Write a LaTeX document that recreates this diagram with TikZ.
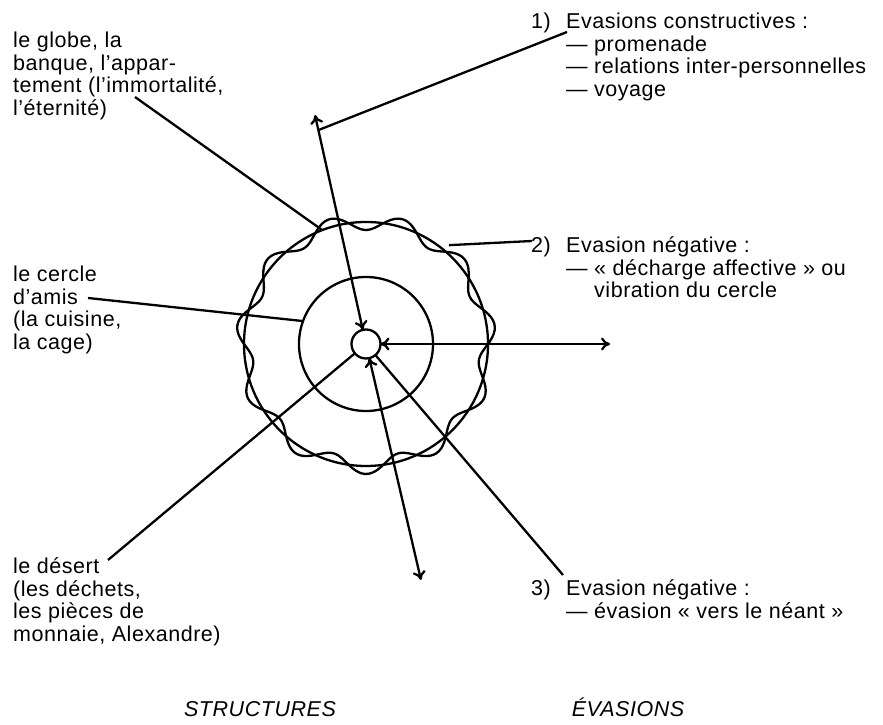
\documentclass[tikz,border=0pt]{standalone}
\usepackage{fontspec}
\setmainfont{Liberation Sans}[LetterSpace=2.5]
\usepackage{tikz}
\usetikzlibrary{arrows.meta}
\usetikzlibrary{calc}

\tikzset{
    txt/.style={anchor=north west, inner sep=0pt, align=left},
    ring/.style={draw, circle, inner sep=0pt, outer sep=0pt},
}

\begin{document}
\begin{tikzpicture}[x=1pt, y=1pt, line width=2.3pt, >={Computer Modern Rightarrow[length=9pt, width=13pt]},
        font=\fontsize{21.5}{22.5}\selectfont]
        \useasboundingbox (0, 0) rectangle (883, 725);
        % rings
        \node[ring, minimum size=29pt] (core) at (366, 381) {};
        \node[ring, minimum size=134pt] (amis) at (core) {};
        \node[ring, minimum size=244pt] (globe) at (core) {};
        \draw plot[samples=240, domain=0:360] ({366 + (122 + 8*sin(11*\x))*cos(\x)}, {381 + (122 + 8*sin(11*\x))*sin(\x)});
        % structures
        \node[txt] (globetxt) at (12, 694) {le globe, la\\banque, l'appar-\\tement (l'immortalité,\\l'éternité)};
        \node[txt] (amistxt) at (12, 460) {le cercle\\d'amis\\(la cuisine,\\la cage)};
        \node[txt] (deserttxt) at (12, 168) {le désert\\(les déchets,\\les pièces de\\monnaie, Alexandre)};
        % evasions
        \node[txt] (num1) at (530, 713) {1)};
        \node[txt] (evas1) at (565, 713) {Evasions constructives :\\— promenade\\— relations inter-personnelles\\— voyage};
        \node[txt] (num2) at (530, 489) {2)};
        \node[txt] (evas2) at (565, 489) {Evasion négative :\\— « décharge affective » ou\\\phantom{— }vibration du cercle};
        \node[txt] (num3) at (530, 146) {3)};
        \node[txt] (evas3) at (565, 146) {Evasion négative :\\— évasion « vers le néant »};
        \node[anchor=base] (structures) at (260, 8) {\itshape STRUCTURES};
        \node[anchor=base] (evasions) at (628, 8) {\itshape ÉVASIONS};
        % arrow ends
        \coordinate (upend) at (315, 610);
        \coordinate (rightend) at (610, 381);
        \coordinate (downend) at (421, 145);
        \coordinate (desertend) at (108, 165);
        \coordinate (neantend) at (563, 150);
        \draw[<->] (core) -- (upend);
        \draw[<->] (core) -- (rightend);
        \draw[<->] (core) -- (downend);
        \draw (core) -- (desertend);
        \draw (core) -- (neantend);
        % leaders
        \draw ($(upend)!0.066!(core)$) -- (567, 693);
        \draw (135, 628) -- (globe.111);
        \draw (88, 427) -- (amis.160);
        \draw ($(core)+(50:129)$) -- (532, 484);
\end{tikzpicture}
\end{document}
